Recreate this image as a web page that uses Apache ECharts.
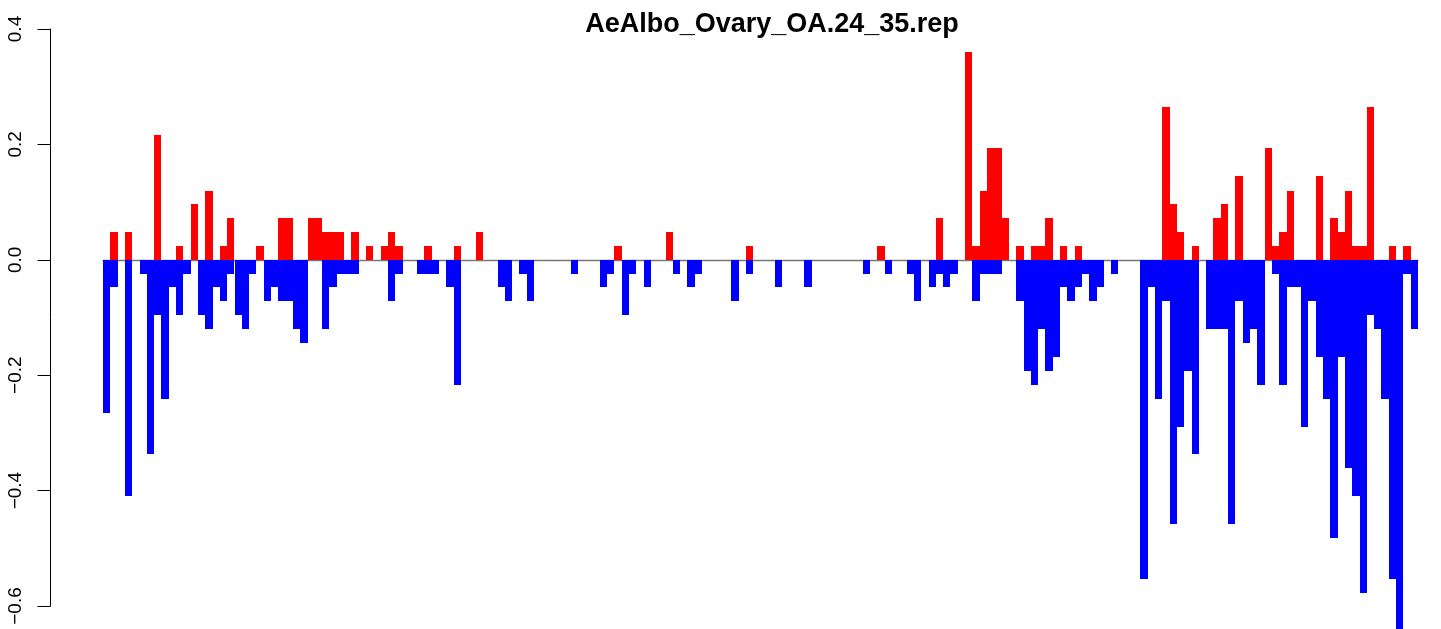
<!DOCTYPE html>
<html>
<head>
<meta charset="utf-8">
<script src="https://cdn.jsdelivr.net/npm/echarts@6/dist/echarts.min.js"></script>
<style>
html,body{margin:0;padding:0;background:#fff;}
#chart{width:1441px;height:629px;}
</style>
</head>
<body>
<div id="chart"></div>
<script>
const titleText = 'AeAlbo_Ovary_OA.24_35.rep';
const yTicks = [-0.6, -0.4, -0.2, 0.0, 0.2, 0.4];

const upValues = [
  0,0.048,0,0.048,0,0,0,0.217,0,0,
  0.024,0,0.096,0,0.120,0,0.024,0.072,0,0,
  0,0.024,0,0,0.072,0.072,0,0,0.072,0.072,
  0.048,0.048,0.048,0,0.048,0,0.024,0,0.024,0.048,
  0.024,0,0,0,0.024,0,0,0,0.024,0,
  0,0.048,0,0,0,0,0,0,0,0,
  0,0,0,0,0,0,0,0,0,0,
  0.024,0,0,0,0,0,0,0.048,0,0,
  0,0,0,0,0,0,0,0,0.024,0,
  0,0,0,0,0,0,0,0,0,0,
  0,0,0,0,0,0,0.024,0,0,0,
  0,0,0,0,0.072,0,0,0,0.361,0.024,
  0.120,0.193,0.193,0.072,0,0.024,0,0.024,0.024,0.072,
  0,0.024,0,0.024,0,0,0,0,0,0,
  0,0,0,0,0,0.265,0.096,0.048,0,0.024,
  0,0,0.072,0.096,0,0.145,0,0,0,0.193,
  0.024,0.048,0.120,0,0,0,0.145,0,0.072,0.048,
  0.120,0.024,0.024,0.265,0,0,0.024,0,0.024,0
];

const downValues = [
  -0.265,-0.048,0,-0.410,0,-0.024,-0.337,-0.096,-0.241,-0.048,
  -0.096,-0.024,0,-0.096,-0.120,-0.048,-0.072,-0.024,-0.096,-0.120,
  -0.024,0,-0.072,-0.048,-0.072,-0.072,-0.120,-0.145,0,0,
  -0.120,-0.048,-0.024,-0.024,-0.024,0,0,0,0,-0.072,
  -0.024,0,0,-0.024,-0.024,-0.024,0,-0.048,-0.217,0,
  0,0,0,0,-0.048,-0.072,0,-0.024,-0.072,0,
  0,0,0,0,-0.024,0,0,0,-0.048,-0.024,
  0,-0.096,-0.024,0,-0.048,0,0,0,-0.024,0,
  -0.048,-0.024,0,0,0,0,-0.072,0,-0.024,0,
  0,0,-0.048,0,0,0,-0.048,0,0,0,
  0,0,0,0,-0.024,0,0,-0.024,0,0,
  -0.024,-0.072,0,-0.048,-0.024,-0.048,-0.024,0,0,-0.072,
  -0.024,-0.024,-0.024,0,0,-0.072,-0.193,-0.217,-0.120,-0.193,
  -0.169,-0.048,-0.072,-0.048,-0.024,-0.072,-0.048,0,-0.024,0,
  0,0,-0.554,-0.048,-0.241,-0.072,-0.458,-0.289,-0.193,-0.337,
  0,-0.120,-0.120,-0.120,-0.458,-0.072,-0.145,-0.120,-0.217,0,
  -0.024,-0.217,-0.048,-0.048,-0.289,-0.072,-0.169,-0.241,-0.482,-0.169,
  -0.361,-0.410,-0.578,-0.096,-0.120,-0.241,-0.554,-0.651,-0.024,-0.120
];

const categories = upValues.map((_, i) => String(i + 1));

// crisp, pixel-snapped bars placed through the chart's own axes
function barRenderer(color) {
  return function (params, api) {
    const v = api.value(1);
    if (!v) return null;
    const idx = api.value(0);
    const base = api.coord([idx, 0]);
    const top = api.coord([idx, v]);
    const w = api.size([1, 0])[0];
    const x0 = Math.round(base[0] - w / 2);
    const x1 = Math.round(base[0] + w / 2);
    const y0 = Math.round(base[1]);
    const y1 = Math.round(top[1]);
    return {
      type: 'rect',
      shape: {x: x0, y: Math.min(y0, y1), width: x1 - x0, height: Math.abs(y1 - y0)},
      style: {fill: color}
    };
  };
}

const chart = echarts.init(document.getElementById('chart'), null, {renderer: 'canvas'});
chart.setOption({
  animation: false,
  backgroundColor: '#ffffff',
  textStyle: {fontFamily: 'Liberation Sans, Arial, sans-serif'},
  title: {
    text: titleText,
    left: 767,
    top: 6,
    textAlign: 'center',
    textStyle: {fontSize: 27, fontWeight: 'bold', color: '#000', fontFamily: 'Liberation Sans, Arial, sans-serif'}
  },
  grid: {left: 103, right: 23, top: 29, bottom: 23, containLabel: false},
  xAxis: {
    type: 'category',
    data: categories,
    boundaryGap: true,
    axisLine: {show: true, onZero: true, lineStyle: {color: '#777', width: 1.3}},
    axisTick: {show: false},
    axisLabel: {show: false},
    splitLine: {show: false}
  },
  yAxis: {
    type: 'value',
    min: yTicks[0],
    max: yTicks[yTicks.length - 1],
    interval: 0.2,
    offset: 52.5,
    axisLine: {show: true, lineStyle: {color: '#000', width: 1}},
    axisTick: {show: true, length: 13, lineStyle: {color: '#000', width: 1}},
    splitLine: {show: false},
    axisLabel: {
      rotate: 90,
      margin: 25,
      fontSize: 19,
      color: '#000',
      fontFamily: 'Liberation Sans, Arial, sans-serif',
      formatter: v => (v < 0 ? '\u2212' : '') + Math.abs(v).toFixed(1)
    }
  },
  series: [
    {
      type: 'custom',
      renderItem: barRenderer('#ff0000'),
      data: upValues.map((v, i) => [i, v]),
      encode: {x: 0, y: 1},
      clip: false,
      silent: true
    },
    {
      type: 'custom',
      renderItem: barRenderer('#0000ff'),
      data: downValues.map((v, i) => [i, v]),
      encode: {x: 0, y: 1},
      clip: false,
      silent: true
    }
  ]
});
</script>
</body>
</html>
